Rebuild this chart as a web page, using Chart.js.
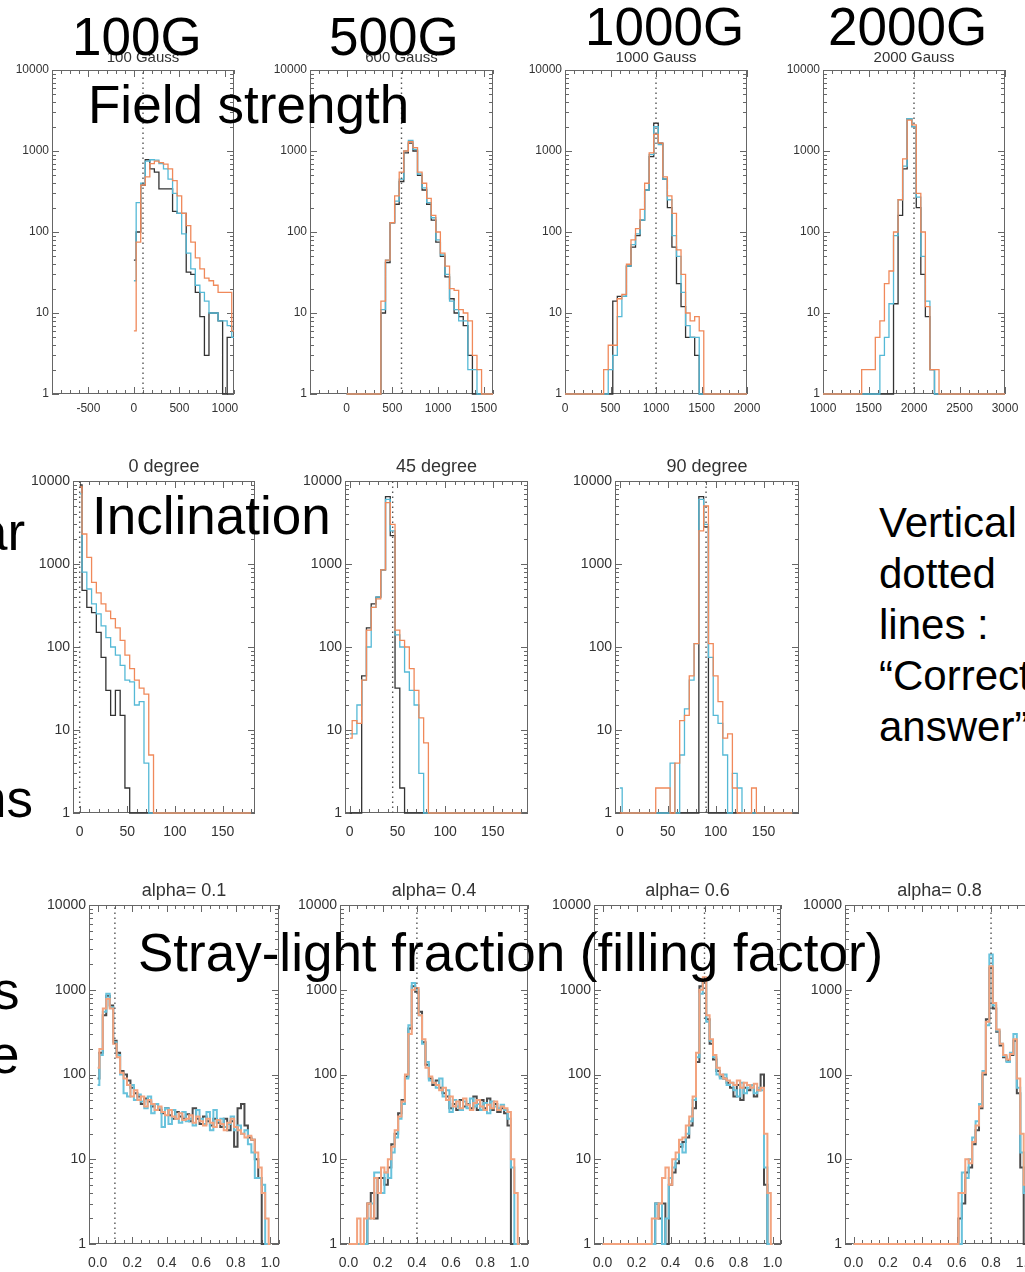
<!DOCTYPE html>
<html>
<head>
<meta charset="utf-8">
<script src="https://cdn.jsdelivr.net/npm/chart.js@4.4.1/dist/chart.umd.min.js"></script>
<style>
  html, body { margin: 0; padding: 0; overflow: hidden; }
  body { width: 1025px; height: 1272px; position: relative; background: #fff; font-family: "Liberation Sans", Arial, sans-serif; }
  canvas { position: absolute; }
  .big { position: absolute; font-size: 53px; line-height: 53px; white-space: nowrap; color: #000; z-index: 5; }
  .note { position: absolute; left: 879px; top: 497px; font-size: 42px; line-height: 51px; white-space: nowrap; color: #000; z-index: 5; }
</style>
</head>
<body>

<div class="big" style="left:72px;top:10px">100G</div>
<div class="big" style="left:329px;top:10px">500G</div>
<div class="big" style="left:585px;top:0px">1000G</div>
<div class="big" style="left:828px;top:0px">2000G</div>
<div class="big" style="left:88px;top:78px">Field strength</div>
<div class="big" style="left:92px;top:489px">Inclination</div>
<div class="big" style="left:138px;top:926px">Stray-light fraction (filling factor)</div>
<div class="big" style="left:-22px;top:505px">ar</div>
<div class="big" style="left:-23px;top:772px">ns</div>
<div class="big" style="left:-7px;top:964px">s</div>
<div class="big" style="left:-10px;top:1028px">e</div>
<div class="note">Vertical<br>dotted<br>lines :<br>“Correct<br>answer”</div>

<script>
// ===== DATA: FIELD STRENGTH (50 G bins) =====
const fieldStep = 50;
const fieldTruth = [100, 600, 1000, 2000];
const yTickValues = [1, 10, 100, 1000, 10000];

// 100 Gauss, bins centred 0..1100
const field100Black  = [45, 100, 380, 780, 600, 550, 340, 340, 340, 180, 170, 170, 32, 30, 18, 9, 3, 10, 10, 8, 1, 5, 5];
const field100Cyan   = [25, 230, 400, 750, 780, 770, 700, 600, 450, 300, 170, 95, 55, 35, 22, 18, 14, 10, 10, 8, 8, 7, 5];
const field100Orange = [6, 75, 380, 480, 700, 750, 720, 690, 600, 430, 280, 170, 120, 75, 48, 35, 27, 25, 22, 18, 18, 18, 6];

// 600 Gauss, bins centred 0..1600
const field600Black  = [1, 1, 1, 1, 1, 1, 1, 1, 10, 42, 130, 220, 420, 950, 1250, 1000, 500, 330, 220, 140, 75, 50, 28, 15, 10, 9, 7, 3, 1, 1, 1, 1, 1];
const field600Cyan   = [1, 1, 1, 1, 1, 1, 1, 1, 11, 45, 130, 240, 450, 1000, 1350, 1050, 520, 350, 230, 150, 80, 52, 30, 14, 11, 8, 8, 2, 2, 1, 1, 1, 1];
const field600Orange = [1, 1, 1, 1, 1, 1, 1, 1, 14, 45, 130, 280, 550, 1000, 1300, 1100, 550, 400, 260, 160, 100, 55, 38, 20, 19, 11, 10, 8, 3, 2, 1, 1, 1];

// 1000 Gauss, bins centred 0..2000
const field1000Black  = [1, 1, 1, 1, 1, 1, 1, 1, 1, 1, 1, 14, 16, 16, 38, 65, 90, 140, 330, 850, 2200, 1250, 450, 200, 65, 23, 12, 5, 5, 3, 1, 1, 1, 1, 1, 1, 1, 1, 1, 1, 1];
const field1000Cyan   = [1, 1, 1, 1, 1, 1, 1, 1, 1, 1, 2, 3, 9, 16, 38, 70, 95, 140, 330, 900, 2000, 1200, 450, 250, 90, 50, 18, 7, 5, 5, 1, 1, 1, 1, 1, 1, 1, 1, 1, 1, 1];
const field1000Orange = [1, 1, 1, 1, 1, 1, 1, 1, 1, 2, 4, 4, 15, 17, 40, 80, 110, 190, 400, 950, 1600, 1250, 480, 280, 170, 60, 30, 10, 8, 9, 6, 1, 1, 1, 1, 1, 1, 1, 1, 1, 1];

// 2000 Gauss, bins centred 1000..3000
const field2000Black  = [1, 1, 1, 1, 1, 1, 1, 1, 1, 1, 1, 1, 1, 1, 1, 1, 13, 160, 600, 2500, 2000, 200, 30, 9, 2, 1, 1, 1, 1, 1, 1, 1, 1, 1, 1, 1, 1, 1, 1, 1, 1];
const field2000Cyan   = [1, 1, 1, 1, 1, 1, 1, 1, 1, 1, 1, 1, 1, 3, 5, 13, 90, 250, 650, 2500, 2000, 270, 50, 14, 2, 1, 1, 1, 1, 1, 1, 1, 1, 1, 1, 1, 1, 1, 1, 1, 1];
const field2000Orange = [1, 1, 1, 1, 1, 1, 1, 1, 1, 2, 2, 2, 5, 8, 23, 33, 100, 250, 800, 2400, 2100, 300, 100, 12, 2, 2, 1, 1, 1, 1, 1, 1, 1, 1, 1, 1, 1, 1, 1, 1, 1];

// ===== DATA: INCLINATION (5 degree bins, centred 0..180) =====
const inclStep = 5;
const inclTruth = [0, 45, 90];

const incl0Black  = [9000, 480, 300, 260, 150, 75, 30, 15, 30, 15, 2, 1, 1, 1, 1, 1, 1, 1, 1, 1, 1, 1, 1, 1, 1, 1, 1, 1, 1, 1, 1, 1, 1, 1, 1, 1, 1];
const incl0Cyan   = [7000, 800, 500, 330, 250, 180, 130, 100, 80, 60, 40, 38, 20, 22, 4, 1, 1, 1, 1, 1, 1, 1, 1, 1, 1, 1, 1, 1, 1, 1, 1, 1, 1, 1, 1, 1, 1];
const incl0Orange = [8500, 2300, 1200, 600, 450, 330, 270, 220, 170, 120, 80, 55, 40, 32, 27, 5, 1, 1, 1, 1, 1, 1, 1, 1, 1, 1, 1, 1, 1, 1, 1, 1, 1, 1, 1, 1, 1];

const incl45Black  = [1, 1, 1, 45, 170, 330, 400, 850, 6500, 2200, 32, 2, 1, 1, 1, 1, 1, 1, 1, 1, 1, 1, 1, 1, 1, 1, 1, 1, 1, 1, 1, 1, 1, 1, 1, 1, 1];
const incl45Cyan   = [9, 9, 20, 40, 100, 300, 400, 850, 6000, 2500, 140, 100, 50, 30, 20, 3, 1, 1, 1, 1, 1, 1, 1, 1, 1, 1, 1, 1, 1, 1, 1, 1, 1, 1, 1, 1, 1];
const incl45Orange = [8, 13, 12, 40, 160, 300, 380, 850, 5500, 3000, 160, 120, 100, 55, 30, 14, 7, 1, 1, 1, 1, 1, 1, 1, 1, 1, 1, 1, 1, 1, 1, 1, 1, 1, 1, 1, 1];

const incl90Black  = [1, 1, 1, 1, 1, 1, 1, 1, 1, 1, 1, 1, 1, 1, 1, 1, 1, 6500, 2800, 1, 1, 1, 1, 1, 1, 1, 1, 1, 1, 1, 1, 1, 1, 1, 1, 1, 1];
const incl90Cyan   = [2, 1, 1, 1, 1, 1, 1, 1, 1, 1, 1, 4, 1, 5, 18, 40, 110, 6000, 3000, 75, 15, 12, 5, 1, 3, 2, 1, 1, 1, 1, 1, 1, 1, 1, 1, 1, 1];
const incl90Orange = [1, 1, 1, 1, 1, 1, 1, 1, 2, 2, 2, 1, 4, 13, 15, 45, 110, 2500, 5000, 110, 45, 22, 8, 9, 2, 1, 1, 1, 2, 1, 1, 1, 1, 1, 1, 1, 1];

// ===== DATA: STRAY-LIGHT FRACTION (0.02 bins, centred 0..1) =====
const alphaStep = 0.02;
const alphaTruth = [0.1, 0.4, 0.6, 0.8];

const alpha1Black  = [90, 180, 500, 850, 650, 250, 180, 110, 100, 85, 70, 60, 55, 45, 52, 48, 42, 45, 38, 35, 40, 33, 30, 36, 32, 30, 34, 28, 40, 30, 26, 32, 28, 25, 30, 27, 24, 30, 22, 28, 14, 40, 45, 25, 18, 17, 10, 6, 1, 1, 1];
const alpha1Cyan   = [75, 170, 550, 900, 620, 240, 170, 100, 60, 55, 75, 50, 58, 48, 40, 55, 35, 45, 40, 24, 40, 26, 38, 30, 27, 36, 28, 30, 25, 38, 30, 26, 36, 22, 38, 28, 30, 24, 26, 32, 22, 25, 20, 22, 15, 12, 6, 6, 5, 1, 1];
const alpha1Orange = [120, 200, 600, 780, 600, 230, 160, 105, 90, 75, 55, 65, 50, 55, 42, 50, 45, 38, 42, 36, 33, 38, 32, 30, 35, 29, 30, 33, 27, 32, 28, 25, 30, 27, 24, 29, 26, 22, 27, 30, 24, 22, 20, 18, 19, 17, 12, 8, 4, 2, 1];

const alpha4Black  = [1, 1, 1, 1, 1, 1, 3, 4, 2, 6, 6, 5, 8, 15, 20, 35, 50, 95, 350, 1100, 950, 550, 240, 130, 90, 75, 85, 70, 60, 55, 40, 45, 38, 50, 42, 45, 40, 55, 38, 50, 40, 52, 38, 45, 36, 40, 35, 25, 1, 1, 1];
const alpha4Cyan   = [1, 1, 1, 1, 1, 1, 2, 3, 7, 7, 4, 7, 6, 12, 18, 30, 45, 90, 380, 1200, 1000, 500, 230, 140, 85, 80, 70, 90, 55, 65, 36, 50, 42, 38, 48, 40, 52, 42, 45, 38, 46, 35, 48, 42, 40, 44, 38, 30, 8, 1, 1];
const alpha4Orange = [1, 1, 1, 2, 1, 2, 3, 2, 6, 4, 8, 7, 10, 14, 22, 32, 48, 100, 300, 1000, 1050, 500, 260, 120, 95, 80, 75, 65, 70, 50, 55, 42, 48, 40, 52, 44, 38, 46, 50, 42, 38, 44, 40, 48, 38, 42, 40, 36, 10, 4, 1];

const alpha6Black  = [1, 1, 1, 1, 1, 1, 1, 1, 1, 1, 1, 1, 1, 1, 1, 1, 3, 2, 3, 1, 5, 7, 9, 14, 16, 18, 25, 40, 140, 1100, 1200, 450, 230, 150, 110, 95, 90, 80, 70, 55, 75, 50, 70, 65, 75, 55, 65, 100, 5, 1, 1];
const alpha6Cyan   = [1, 1, 1, 1, 1, 1, 1, 1, 1, 1, 1, 1, 1, 1, 1, 1, 3, 3, 1, 2, 6, 8, 10, 15, 12, 20, 28, 50, 160, 900, 1300, 420, 250, 160, 100, 90, 100, 75, 80, 65, 55, 80, 60, 70, 75, 60, 70, 65, 8, 1, 1];
const alpha6Orange = [1, 1, 1, 1, 1, 1, 1, 1, 1, 1, 1, 1, 1, 1, 1, 2, 2, 3, 6, 8, 5, 10, 12, 17, 18, 25, 32, 55, 180, 1000, 1400, 500, 260, 170, 120, 100, 90, 85, 80, 75, 85, 70, 80, 75, 70, 78, 65, 70, 20, 4, 1];

const alpha8Black  = [1, 1, 1, 1, 1, 1, 1, 1, 1, 1, 1, 1, 1, 1, 1, 1, 1, 1, 1, 1, 1, 1, 1, 1, 1, 1, 1, 1, 1, 1, 1, 2, 3, 7, 8, 15, 22, 40, 100, 450, 1800, 600, 320, 220, 160, 145, 170, 250, 60, 8, 1];
const alpha8Cyan   = [1, 1, 1, 1, 1, 1, 1, 1, 1, 1, 1, 1, 1, 1, 1, 1, 1, 1, 1, 1, 1, 1, 1, 1, 1, 1, 1, 1, 1, 1, 1, 1, 7, 6, 10, 18, 28, 45, 110, 380, 2600, 650, 330, 230, 165, 140, 180, 300, 70, 12, 4];
const alpha8Orange = [1, 1, 1, 1, 1, 1, 1, 1, 1, 1, 1, 1, 1, 1, 1, 1, 1, 1, 1, 1, 1, 1, 1, 1, 1, 1, 1, 1, 1, 1, 1, 4, 4, 10, 9, 16, 25, 42, 105, 420, 1900, 700, 340, 230, 170, 150, 175, 260, 90, 20, 5];

// ===== PANEL LAYOUT =====
const FONT = '"Liberation Sans", Arial, sans-serif';
const rowStyle = {
  1: { tick: 12, title: 15, lw: 1.3, xPad: 7,  colors: ['#333333', '#55b9d6', '#f0895a'] },
  2: { tick: 14, title: 18, lw: 1.3, xPad: 11, colors: ['#333333', '#55b9d6', '#f0895a'] },
  3: { tick: 14, title: 18, lw: 2,   xPad: 11, colors: ['#4a4a4a', '#68c2dc', '#f3a37e'] }
};

const alphaTicks = [0, 0.2, 0.4, 0.6, 0.8, 1.0];
const panels = [
  { row: 1, title: '100 Gauss',  box: [52, 70, 234, 394],   range: [-900, 1100], start: 0,    step: fieldStep, truth: fieldTruth[0], ticks: [-500, 0, 500, 1000], minor: 100, series: [field100Black, field100Cyan, field100Orange] },
  { row: 1, title: '600 Gauss',  box: [310, 70, 493, 394],  range: [-400, 1600], start: 0,    step: fieldStep, truth: fieldTruth[1], ticks: [0, 500, 1000, 1500], minor: 100, series: [field600Black, field600Cyan, field600Orange] },
  { row: 1, title: '1000 Gauss', box: [565, 70, 747, 394],  range: [0, 2000],    start: 0,    step: fieldStep, truth: fieldTruth[2], ticks: [0, 500, 1000, 1500, 2000], minor: 100, series: [field1000Black, field1000Cyan, field1000Orange] },
  { row: 1, title: '2000 Gauss', box: [823, 70, 1005, 394], range: [1000, 3000], start: 1000, step: fieldStep, truth: fieldTruth[3], ticks: [1000, 1500, 2000, 2500, 3000], minor: 100, series: [field2000Black, field2000Cyan, field2000Orange] },
  { row: 2, title: '0 degree',   box: [73, 481, 255, 813],  range: [-7, 184],    start: 0, step: inclStep, truth: inclTruth[0], ticks: [0, 50, 100, 150], minor: 10, series: [incl0Black, incl0Cyan, incl0Orange] },
  { row: 2, title: '45 degree',  box: [345, 481, 528, 813], range: [-5, 187],    start: 0, step: inclStep, truth: inclTruth[1], ticks: [0, 50, 100, 150], minor: 10, series: [incl45Black, incl45Cyan, incl45Orange] },
  { row: 2, title: '90 degree',  box: [615, 481, 799, 813], range: [-5, 187],    start: 0, step: inclStep, truth: inclTruth[2], ticks: [0, 50, 100, 150], minor: 10, series: [incl90Black, incl90Cyan, incl90Orange] },
  { row: 3, title: 'alpha= 0.1', box: [89, 905, 279, 1244],   range: [-0.05, 1.05], start: 0, step: alphaStep, truth: alphaTruth[0], ticks: alphaTicks, minor: 0.05, series: [alpha1Black, alpha1Cyan, alpha1Orange] },
  { row: 3, title: 'alpha= 0.4', box: [340, 905, 528, 1244],  range: [-0.05, 1.05], start: 0, step: alphaStep, truth: alphaTruth[1], ticks: alphaTicks, minor: 0.05, series: [alpha4Black, alpha4Cyan, alpha4Orange] },
  { row: 3, title: 'alpha= 0.6', box: [594, 905, 781, 1244],  range: [-0.05, 1.05], start: 0, step: alphaStep, truth: alphaTruth[2], ticks: alphaTicks, minor: 0.05, series: [alpha6Black, alpha6Cyan, alpha6Orange] },
  { row: 3, title: 'alpha= 0.8', box: [845, 905, 1034, 1244], range: [-0.05, 1.05], start: 0, step: alphaStep, truth: alphaTruth[3], ticks: alphaTicks, minor: 0.05, series: [alpha8Black, alpha8Cyan, alpha8Orange] }
];

// ===== FRAME, INWARD TICKS AND TITLE (IDL look) =====
function framePlugin(p, st) {
  return {
    id: 'frame',
    beforeDatasetsDraw(chart) {
      const { ctx, chartArea: a, scales: { x, y } } = chart;
      ctx.save();
      ctx.strokeStyle = '#666';
      ctx.lineWidth = 1;
      ctx.strokeRect(Math.round(a.left) + 0.5, Math.round(a.top) + 0.5,
        Math.round(a.right - a.left) - 1, Math.round(a.bottom - a.top) - 1);
      ctx.beginPath();
      // log y ticks, left and right
      for (let d = 1; d <= 10000; d *= 10) {
        for (let m = 1; m < 10; m++) {
          const v = d * m;
          if (v > 10000) break;
          const py = Math.round(y.getPixelForValue(v)) + 0.5;
          const len = m === 1 ? 7 : 4;
          ctx.moveTo(a.left, py); ctx.lineTo(a.left + len, py);
          ctx.moveTo(a.right, py); ctx.lineTo(a.right - len, py);
        }
      }
      // x ticks, bottom and top
      for (let k = Math.ceil(p.range[0] / p.minor - 1e-9); k * p.minor <= p.range[1] + 1e-9; k++) {
        const v = k * p.minor;
        const major = p.ticks.some(t => Math.abs(t - v) < 1e-6);
        const px = Math.round(x.getPixelForValue(v)) + 0.5;
        const len = major ? 7 : 4;
        ctx.moveTo(px, a.bottom); ctx.lineTo(px, a.bottom - len);
        ctx.moveTo(px, a.top); ctx.lineTo(px, a.top + len);
      }
      ctx.stroke();
      ctx.fillStyle = '#333';
      ctx.font = st.title + 'px ' + FONT;
      ctx.textAlign = 'center';
      ctx.textBaseline = 'bottom';
      ctx.fillText(p.title, (a.left + a.right) / 2, a.top - 5);
      ctx.restore();
    }
  };
}

// ===== BUILD ONE HISTOGRAM PANEL =====
const pad = { l: 50, t: 30, r: 28, b: 40 };

function makePanel(p) {
  const st = rowStyle[p.row];
  const w = p.box[2] - p.box[0], h = p.box[3] - p.box[1];
  const cv = document.createElement('canvas');
  cv.width = w + pad.l + pad.r;
  cv.height = h + pad.t + pad.b;
  cv.style.left = (p.box[0] - pad.l) + 'px';
  cv.style.top = (p.box[1] - pad.t) + 'px';
  document.body.appendChild(cv);

  const datasets = p.series.map((vals, k) => ({
    data: vals.map((v, i) => ({ x: p.start + i * p.step, y: v })),
    borderColor: st.colors[k],
    borderWidth: st.lw,
    stepped: 'middle',
    pointRadius: 0,
    fill: false,
    clip: { left: 0, top: 0, right: 0, bottom: 3 },
    order: 3 - k
  }));
  datasets.push({
    data: [{ x: p.truth, y: 1 }, { x: p.truth, y: 10000 }],
    borderColor: '#555',
    borderWidth: 1.4,
    borderDash: [1.5, 3.5],
    pointRadius: 0,
    order: 0
  });

  const fmt = p.row === 3 ? (v => Number(v).toFixed(1)) : (v => String(v));

  new Chart(cv, {
    type: 'line',
    data: { datasets },
    options: {
      responsive: false,
      animation: false,
      layout: { padding: { left: 0, top: pad.t, right: pad.r, bottom: 0 } },
      plugins: { legend: { display: false }, tooltip: { enabled: false } },
      scales: {
        x: {
          type: 'linear', min: p.range[0], max: p.range[1],
          afterBuildTicks: s => { s.ticks = p.ticks.map(v => ({ value: v })); },
          afterFit: s => { s.height = pad.b; },
          grid: { display: false, drawTicks: false },
          border: { display: false },
          ticks: { autoSkip: false, maxRotation: 0, padding: st.xPad, color: '#333', font: { size: st.tick, family: FONT }, callback: fmt }
        },
        y: {
          type: 'logarithmic', min: 1, max: 10000,
          afterBuildTicks: s => { s.ticks = yTickValues.map(v => ({ value: v })); },
          afterFit: s => { s.width = pad.l; },
          grid: { display: false, drawTicks: false },
          border: { display: false },
          ticks: { autoSkip: false, padding: 3, color: '#333', font: { size: st.tick, family: FONT }, callback: v => String(v) }
        }
      }
    },
    plugins: [framePlugin(p, st)]
  });
}

panels.forEach(makePanel);
</script>
</body>
</html>
